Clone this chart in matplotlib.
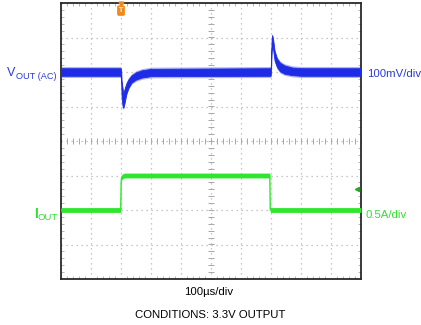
import numpy as np
import matplotlib
matplotlib.use("Agg")
import matplotlib.pyplot as plt
from matplotlib.ticker import MultipleLocator

plt.rcParams['font.family'] = ['Liberation Sans', 'DejaVu Sans']

# ---- data ----
# time axis: 100 us/div, 10 div
t_vout = [0, 199, 200.5, 202, 205, 208, 212, 218, 225, 235, 250, 270, 300,
          699, 700.5, 702, 704, 707, 712, 720, 730, 745, 770, 800, 1000]
# envelope of VOUT(AC) trace, mV (100 mV/div)
vout_hi = [12, 12, 6, -25, -45, -62, -48, -32, -20, -9, 0, 6, 10,
           12, 45, 95, 108, 96, 62, 40, 28, 20, 14, 12, 12]
vout_lo = [-12, -12, -30, -75, -98, -105, -90, -64, -47, -32, -23, -17, -13,
           -12, 10, 60, 82, 65, 32, 13, 1, -6, -10, -12, -12]

t_iout = [0, 199, 200.5, 202, 206, 212, 696, 697.5, 1000]
iout = [0.0, 0.0, 0.40, 0.47, 0.49, 0.5, 0.5, 0.0, 0.0]   # A (0.5 A/div)

VOUT_SCALE = 100.0   # mV/div
IOUT_SCALE = 0.5     # A/div
VOUT_POS = 2.0       # div offset of the VOUT trace
IOUT_POS = -2.0      # div offset of the IOUT trace
TRIG_T = 200         # us

BLUE = '#1f2ce6'
BLUE_TXT = '#2b3bd9'
GREEN = '#2fe62f'
GREEN_TXT = '#33dd33'

W, H = 421, 325
fig = plt.figure(figsize=(W / 100, H / 100), dpi=100)
ax = fig.add_axes([61 / W, 1 - 279 / H, 300 / W, 276 / H])
ax.set_xlim(0, 1000)
ax.set_ylim(-4, 4)

# grid
ax.xaxis.set_major_locator(MultipleLocator(100))
ax.yaxis.set_major_locator(MultipleLocator(1))
ax.xaxis.set_minor_locator(MultipleLocator(20))
ax.yaxis.set_minor_locator(MultipleLocator(0.2))
ax.grid(True, which='major', color='#b5b5b5', linestyle=(0, (1, 3)), linewidth=0.9)
ax.tick_params(which='both', direction='in', top=True, right=True,
               labelbottom=False, labelleft=False, color='#aaaaaa')
ax.tick_params(which='major', length=0)
ax.tick_params(which='minor', length=2.5, width=0.6)
for s in ax.spines.values():
    s.set_color('#2a2a2a')
    s.set_linewidth(1.3)

# center cross ticks
xm = np.arange(0, 1001, 20)
ax.plot(xm, np.zeros_like(xm), linestyle='none', marker='|', markersize=4,
        color='#999999', markeredgewidth=0.6, zorder=1)
ym = np.arange(-4, 4.01, 0.2)
ax.plot(np.full_like(ym, 500), ym, linestyle='none', marker='_', markersize=4,
        color='#999999', markeredgewidth=0.6, zorder=1)

# traces
tv = np.array(t_vout, dtype=float)
hi = VOUT_POS + np.array(vout_hi) / VOUT_SCALE
lo = VOUT_POS + np.array(vout_lo) / VOUT_SCALE
# faint halo (noise fringe) + solid core
ax.fill_between(tv, lo - 0.04, hi + 0.04, color=BLUE, alpha=0.35, linewidth=0, zorder=3)
ax.fill_between(tv, lo + 0.01, hi - 0.01, color=BLUE, linewidth=0.6, edgecolor=BLUE, zorder=3)

ti = np.array(t_iout, dtype=float)
iv = IOUT_POS + np.array(iout) / IOUT_SCALE
ax.plot(ti, iv, color=GREEN, linewidth=1.0, zorder=3)
ax.fill_between(ti, iv - 0.07, iv + 0.07, color=GREEN, linewidth=0, zorder=3)

# trigger marker
ax.annotate('T', xy=(TRIG_T, 3.78), ha='center', va='center', fontsize=5,
            color='white', fontweight='bold', annotation_clip=False,
            bbox=dict(boxstyle='round,pad=0.15', fc='#f08a1c', ec='#f08a1c'), zorder=5)
ax.plot([TRIG_T], [3.98], marker='v', color='#f08a1c', markersize=3.5,
        clip_on=False, zorder=5)
# right-side green marker
ax.plot([985], [-1.4], marker='<', color='#22aa22', markersize=3, clip_on=False, zorder=5)

def ft(x, y, s, **kw):
    fig.text(x / W, 1 - y / H, s, va='baseline', **kw)

ft(7, 76, 'V', fontsize=9, color=BLUE_TXT)
ft(16, 79, 'OUT (AC)', fontsize=6.6, color=BLUE_TXT)
ft(367, 77, '100mV/div', fontsize=8.2, color=BLUE_TXT)

ft(34, 218, 'I', fontsize=10, color=GREEN_TXT, fontweight='bold')
ft(38, 220, 'OUT', fontsize=6.8, color=GREEN_TXT)
ft(365, 218, '0.5A/div', fontsize=8.2, color=GREEN_TXT)

ft(209, 295, '100µs/div', fontsize=8.2, color='black', ha='center')
ft(210, 318, 'CONDITIONS: 3.3V OUTPUT', fontsize=8.2, color='black', ha='center')

fig.savefig('out.png', dpi=100)
